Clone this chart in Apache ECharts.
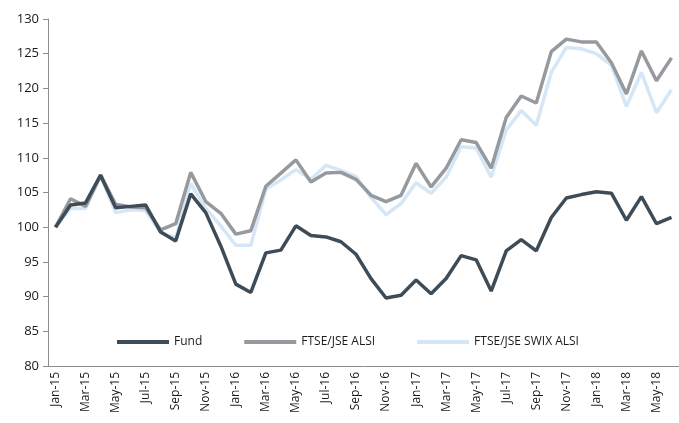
<!DOCTYPE html>
<html>
<head>
<meta charset="utf-8">
<script src="https://cdn.jsdelivr.net/npm/echarts@6/dist/echarts.min.js"></script>
<style>
  html, body { margin: 0; padding: 0; background: #fff; }
  #chart { width: 679px; height: 423px; }
</style>
</head>
<body>
<div id="chart"></div>
<script>
// months Jan-15 .. Jun-18
var months = ['Jan-15','Feb-15','Mar-15','Apr-15','May-15','Jun-15','Jul-15','Aug-15','Sep-15','Oct-15','Nov-15','Dec-15',
    'Jan-16','Feb-16','Mar-16','Apr-16','May-16','Jun-16','Jul-16','Aug-16','Sep-16','Oct-16','Nov-16','Dec-16',
    'Jan-17','Feb-17','Mar-17','Apr-17','May-17','Jun-17','Jul-17','Aug-17','Sep-17','Oct-17','Nov-17','Dec-17',
    'Jan-18','Feb-18','Mar-18','Apr-18','May-18','Jun-18'];

var fund = [100, 103.2, 103.5, 107.5, 102.8, 103, 103.2, 99.3, 98, 104.8, 102.1, 97.3,
    91.8, 90.6, 96.3, 96.7, 100.2, 98.8, 98.6, 97.9, 96.1, 92.6, 89.8, 90.2,
    92.4, 90.4, 92.6, 95.9, 95.3, 90.8, 96.6, 98.2, 96.6, 101.4, 104.2, 104.7,
    105.1, 104.9, 101, 104.4, 100.5, 101.4];

var alsi = [100, 104.1, 103, 107.5, 103.3, 102.9, 102.8, 99.6, 100.5, 107.9, 103.7, 102,
    99, 99.5, 105.9, 107.8, 109.7, 106.5, 107.8, 107.9, 106.9, 104.6, 103.7, 104.6,
    109.2, 105.8, 108.5, 112.6, 112.2, 108.5, 115.8, 118.9, 117.9, 125.3, 127.1, 126.7,
    126.7, 123.7, 119.2, 125.4, 121.1, 124.4];

var swix = [100, 102.7, 102.7, 107.4, 102.1, 102.5, 102.4, 99.2, 98.5, 106.3, 102.7, 100.2,
    97.4, 97.4, 105.5, 106.8, 108.3, 106.9, 108.9, 108.2, 107.3, 104.3, 101.8, 103.4,
    106.4, 104.9, 107.2, 111.6, 111.4, 107.2, 114, 116.8, 114.7, 122.3, 125.9, 125.7,
    125, 123.3, 117.4, 122.3, 116.5, 119.8];

var yMin = 80, yMax = 130, yStep = 5;

var names = ['Fund', 'FTSE/JSE ALSI', 'FTSE/JSE SWIX ALSI'];
var colors = ['#3e4c57', '#969a9e', '#d5e7f6'];
var values = [fund, alsi, swix];

var chart = echarts.init(document.getElementById('chart'));

var series = [];
for (var i = values.length - 1; i >= 0; i--) {
    series.push({
        name: names[i],
        type: 'line',
        data: values[i],
        symbol: 'none',
        lineStyle: { color: colors[i], width: 3.5 },
        itemStyle: { color: colors[i] },
        z: 3 - i
    });
}

var option = {
    animation: false,
    textStyle: { fontFamily: 'Open Sans, Liberation Sans, sans-serif' },
    grid: { left: 48, top: 19, width: 636, height: 347 },
    legend: {
        data: names,
        left: 112,
        top: 331,
        icon: 'rect',
        itemWidth: 52,
        itemHeight: 4,
        itemGap: 42,
        textStyle: { color: '#1a1a1a', fontSize: 12 }
    },
    xAxis: {
        type: 'category',
        data: months,
        boundaryGap: true,
        axisLine: { lineStyle: { color: '#8c8c8c', width: 1 } },
        axisTick: { interval: 1, length: 5, lineStyle: { color: '#8c8c8c' } },
        axisLabel: { interval: 1, rotate: 90, color: '#1a1a1a', fontSize: 12, margin: 6 },
        splitLine: { show: false }
    },
    yAxis: {
        type: 'value',
        min: yMin,
        max: yMax,
        interval: yStep,
        axisLine: { show: true, lineStyle: { color: '#8c8c8c', width: 1 } },
        axisTick: { show: true, length: 5, lineStyle: { color: '#8c8c8c' } },
        axisLabel: { color: '#1a1a1a', fontSize: 13, margin: 9 },
        splitLine: { show: false }
    },
    series: series
};
chart.setOption(option);
</script>
</body>
</html>
